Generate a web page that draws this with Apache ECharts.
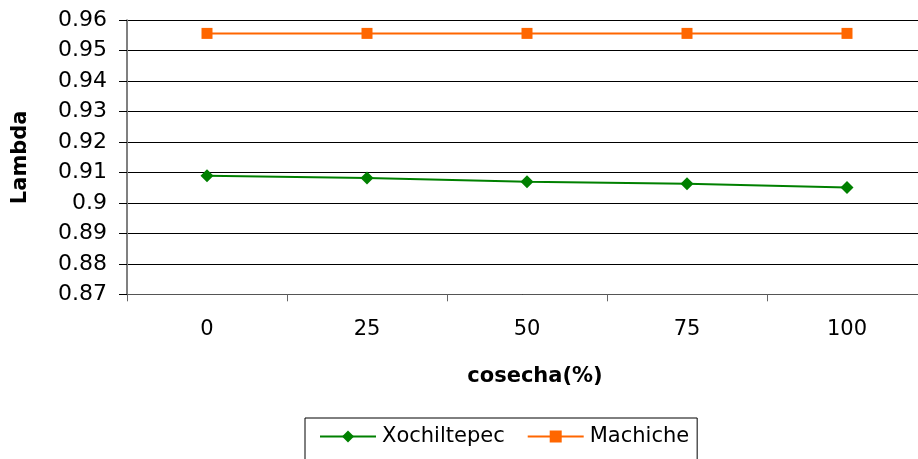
<!DOCTYPE html>
<html>
<head>
<meta charset="utf-8">
<script src="https://cdn.jsdelivr.net/npm/echarts@6/dist/echarts.min.js"></script>
<style>
  html, body { margin: 0; padding: 0; background: #fff; }
  #chart { width: 918px; height: 459px; }
</style>
</head>
<body>
<div id="chart"></div>
<script>
// Harvest percentage (x categories)
const cosecha = ['0', '25', '50', '75', '100'];
// Population growth rate lambda for each site
const xochiltepec = [0.9089, 0.9082, 0.9070, 0.9063, 0.9051];
const machiche = [0.9557, 0.9557, 0.9557, 0.9557, 0.9557];

const FONT = 'DejaVu Sans';
const chart = echarts.init(document.getElementById('chart'), null, { renderer: 'canvas' });

chart.setOption({
  backgroundColor: '#ffffff',
  animation: false,
  textStyle: { fontFamily: FONT },
  // plot area runs past the right edge of the canvas
  grid: { left: 127, top: 20.3, width: 800, height: 274, outerBoundsMode: 'none', containLabel: false },
  legend: {
    left: 305,
    top: 418,
    padding: [8, 8, 30, 14],
    itemWidth: 56,
    itemHeight: 15,
    itemGap: 22,
    borderColor: '#000',
    borderWidth: 1,
    borderRadius: 0,
    textStyle: { fontFamily: FONT, fontSize: 21, color: '#000', padding: [0, 0, 0, 1] },
    data: ['Xochiltepec', 'Machiche']
  },
  xAxis: {
    type: 'category',
    data: cosecha,
    boundaryGap: true,
    name: 'cosecha(%)',
    nameLocation: 'middle',
    nameGap: 72,
    nameTextStyle: { fontFamily: FONT, fontSize: 21, fontWeight: 'bold', color: '#000', padding: [0, 0, 0, 16] },
    axisLine: { lineStyle: { color: '#555', width: 1 } },
    axisTick: { show: true, length: 7, lineStyle: { color: '#666' } },
    axisLabel: { margin: 25, fontFamily: FONT, fontSize: 21, color: '#000' },
    splitLine: { show: false }
  },
  yAxis: {
    type: 'value',
    min: 0.87,
    max: 0.96,
    interval: 0.01,
    name: 'Lambda',
    nameLocation: 'middle',
    nameGap: 96,
    nameTextStyle: { fontFamily: FONT, fontSize: 21, fontWeight: 'bold', color: '#000' },
    axisLine: { show: true, lineStyle: { color: '#808080', width: 2 } },
    axisTick: { show: true, length: 8, lineStyle: { color: '#000' } },
    axisLabel: {
      margin: 20,
      fontFamily: FONT,
      fontSize: 22,
      color: '#000',
      formatter: v => String(parseFloat(v.toFixed(2)))
    },
    splitLine: { show: true, lineStyle: { color: '#000', width: 1 } }
  },
  series: [
    {
      name: 'Xochiltepec',
      type: 'line',
      data: xochiltepec,
      symbol: 'diamond',
      symbolSize: 13,
      itemStyle: { color: '#008000' },
      lineStyle: { color: '#008000', width: 2 }
    },
    {
      name: 'Machiche',
      type: 'line',
      data: machiche,
      symbol: 'rect',
      symbolSize: 11,
      itemStyle: { color: '#ff6600' },
      lineStyle: { color: '#ff6600', width: 2 }
    }
  ]
});
</script>
</body>
</html>
